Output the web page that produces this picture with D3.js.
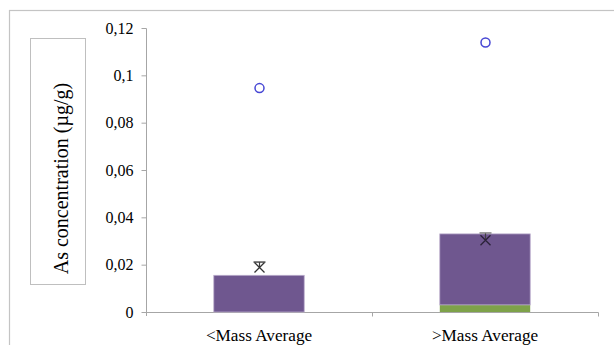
<!DOCTYPE html>
<html>
<head>
<meta charset="utf-8">
<script src="https://cdn.jsdelivr.net/npm/d3@7"></script>
<style>
  html, body { margin: 0; padding: 0; background: #fff; }
  svg { display: block; }
  svg text { font-family: "Liberation Serif", "Times New Roman", Times, "DejaVu Serif", serif !important; fill: #000; }
</style>
</head>
<body>
<svg id="chart" width="614" height="345"></svg>
<script>
// Categories and series (µg/g)
const categories = ["<Mass Average", ">Mass Average"];
const baseValues = [0, 0.003];          // green lower segment
const upperValues = [0.0155, 0.030];    // purple segment stacked on top
const meanValues = [0.0188, 0.0303];    // X markers
const errPlus = [0.0023, 0.0031];       // positive error bars
const maxValues = [0.0946, 0.1139];     // open circles
const yTicks = [0, 0.02, 0.04, 0.06, 0.08, 0.1, 0.12];
const yTickLabels = ["0", "0,02", "0,04", "0,06", "0,08", "0,1", "0,12"];
const yTitle = "As concentration (µg/g)";

const svg = d3.select("#chart");

// outer chart frame
svg.append("rect")
  .attr("x", 9.5).attr("y", 10.5)
  .attr("width", 640).attr("height", 360)
  .attr("fill", "none").attr("stroke", "#c4c4c4").attr("stroke-width", 1.2);

const x = d3.scaleBand().domain(categories).range([146, 598]).padding(0);
const y = d3.scaleLinear().domain([0, 0.12]).range([312, 28]);
const barW = x.bandwidth() * 0.4;

// y axis
const yAxis = svg.append("g").attr("transform", "translate(146.5,0)")
  .call(d3.axisLeft(y).tickValues(yTicks)
    .tickFormat((d, i) => yTickLabels[i]).tickSize(5).tickPadding(8));
yAxis.attr("font-family", null);
yAxis.select(".domain").attr("stroke", "#a6a6a6").attr("d", "M0,28.5V316");
yAxis.selectAll(".tick line").attr("stroke", "#a6a6a6");
yAxis.selectAll(".tick text").attr("font-size", 16).attr("fill", "#000");

// x axis
const xAxis = svg.append("g").attr("transform", "translate(0,312.5)")
  .call(d3.axisBottom(x).tickSize(0).tickPadding(16));
xAxis.attr("font-family", null);
xAxis.select(".domain").attr("stroke", "#a6a6a6").attr("d", "M146,0H598.5V4");
xAxis.selectAll(".tick text").attr("font-size", 17.2).attr("fill", "#000");
// tick marks between categories
svg.append("g").selectAll("line")
  .data(categories.slice(1))
  .join("line")
  .attr("x1", d => x(d) + 0.5).attr("x2", d => x(d) + 0.5)
  .attr("y1", 312).attr("y2", 316.5)
  .attr("stroke", "#a6a6a6");

// stacked bars
const bars = svg.append("g");
bars.selectAll("rect.base")
  .data(categories)
  .join("rect")
  .attr("class", "base")
  .attr("x", d => x(d) + x.bandwidth() / 2 - barW / 2)
  .attr("width", barW)
  .attr("y", (d, i) => y(baseValues[i]))
  .attr("height", (d, i) => y(0) - y(baseValues[i]))
  .attr("fill", "#7ea24a");
bars.selectAll("rect.upper")
  .data(categories)
  .join("rect")
  .attr("class", "upper")
  .attr("x", d => x(d) + x.bandwidth() / 2 - barW / 2)
  .attr("width", barW)
  .attr("y", (d, i) => y(baseValues[i] + upperValues[i]))
  .attr("height", (d, i) => y(baseValues[i]) - y(baseValues[i] + upperValues[i]))
  .attr("fill", "#6f578f")
  .attr("stroke", "#b9abcb").attr("stroke-width", 0.8);

// error bars (plus direction) and X markers
const marks = svg.append("g");
categories.forEach((c, i) => {
  const cx = x(c) + x.bandwidth() / 2 + 0.5;
  const yTop = y(meanValues[i] + errPlus[i]);
  marks.append("line")
    .attr("x1", cx).attr("x2", cx)
    .attr("y1", y(meanValues[i])).attr("y2", yTop)
    .attr("stroke", "#404040").attr("stroke-width", 1.2);
  marks.append("line")
    .attr("x1", cx - 6).attr("x2", cx + 6)
    .attr("y1", yTop).attr("y2", yTop)
    .attr("stroke", i === 0 ? "#404040" : "#7a7a7a").attr("stroke-width", 1.4);
  const my = y(meanValues[i]);
  const s = 5;
  marks.append("path")
    .attr("d", `M${cx - s},${my - s}L${cx + s},${my + s}M${cx - s},${my + s}L${cx + s},${my - s}`)
    .attr("stroke", i === 0 ? "#333" : "#2b2238").attr("stroke-width", 1.3)
    .attr("fill", "none");
});

// open circles for maxima
svg.append("g").selectAll("circle")
  .data(categories)
  .join("circle")
  .attr("cx", d => x(d) + x.bandwidth() / 2 + 0.5)
  .attr("cy", (d, i) => y(maxValues[i]))
  .attr("r", 4.5)
  .attr("fill", "none")
  .attr("stroke", "#4646d4")
  .attr("stroke-width", 1.5);

// y axis title in a framed box
svg.append("rect")
  .attr("x", 30.5).attr("y", 38.5)
  .attr("width", 55).attr("height", 246)
  .attr("fill", "none").attr("stroke", "#bfbfbf");
svg.append("text")
  .attr("transform", "translate(68,178.5) rotate(-90)")
  .attr("text-anchor", "middle")
  .attr("font-size", 20)
  .text(yTitle);
</script>
</body>
</html>
